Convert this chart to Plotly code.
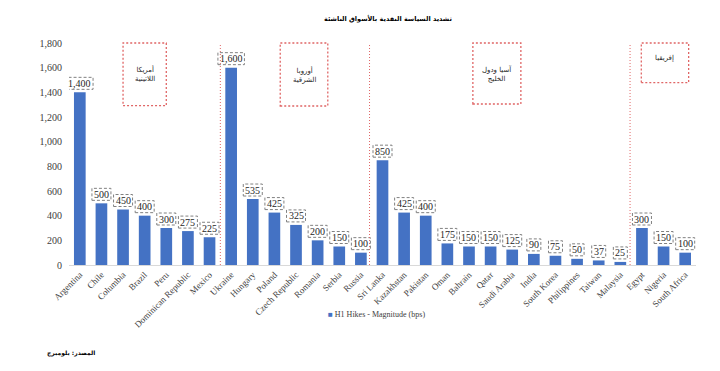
import plotly.graph_objects as go

countries = ["Argentina", "Chile", "Columbia", "Brazil", "Peru", "Dominican Republic", "Mexico",
             "Ukraine", "Hungary", "Poland", "Czech Republic", "Romania", "Serbia", "Russia",
             "Sri Lanka", "Kazakhstan", "Pakistan", "Oman", "Bahrain", "Qatar", "Saudi Arabia",
             "India", "South Korea", "Philippines", "Taiwan", "Malaysia",
             "Egypt", "Nigeria", "South Africa"]
hikes_bps = [1400, 500, 450, 400, 300, 275, 225,
             1600, 535, 425, 325, 200, 150, 100,
             850, 425, 400, 175, 150, 150, 125, 90, 75, 50, 37, 25,
             300, 150, 100]
series_name = "H1 Hikes - Magnitude (bps)"
y_ticks = [0, 200, 400, 600, 800, 1000, 1200, 1400, 1600, 1800]
title_text = "تشديد السياسة النقدية بالأسواق الناشئة"
source_text = "المصدر: بلومبرج"
region_labels = ["أمريكا<br>اللاتينية", "أوروبا<br>الشرقية", "آسيا ودول<br>الخليج", "إفريقيا"]

BLUE = "#4472C4"
RED = "#E06666"
SERIF = "Liberation Serif, Times New Roman, serif"
ARABIC = "DejaVu Sans, Noto Sans, sans-serif"

# page body has an 8px default margin; plot area spans absolute x 68.6..696.4, y 43..265
PX0, PX1, PY0, PY1 = 68.6, 696.4, 43.0, 265.0


def px_x(ax):
    return (ax - PX0) / (PX1 - PX0)


def px_y(ay):
    return (PY1 - ay) / (PY1 - PY0)


idx = list(range(len(countries)))

fig = go.Figure()
fig.add_trace(go.Bar(x=idx, y=hikes_bps, marker=dict(color=BLUE, line=dict(width=0)),
                     width=0.54, name=series_name, showlegend=False))

shapes = []
annotations = []

# data labels in dashed boxes
for i, v in zip(idx, hikes_bps):
    txt = f"{v:,}"
    w = 5.0 * sum(1 for c in txt if c.isdigit()) + 2.5 * txt.count(",") + 4
    shapes.append(dict(type="rect", xref="x", yref="y", xsizemode="pixel", ysizemode="pixel",
                       xanchor=i, yanchor=v, x0=-w / 2, x1=w / 2, y0=3, y1=15,
                       line=dict(color="#808080", width=1, dash="3px,2px"), layer="above"))
    annotations.append(dict(x=i, y=v, xref="x", yref="y", text=txt, showarrow=False,
                            yshift=9, font=dict(family=SERIF, size=10, color="#262626")))

# region separators
for sx in [6.5, 13.4, 25.45]:
    shapes.append(dict(type="line", xref="x", yref="y", x0=sx, x1=sx, y0=0, y1=1800,
                       line=dict(color=RED, width=1, dash="1px,2px")))

# region boxes (x in category units, y in paper units)
boxes = [(2.0, 4.0, px_y(105.7)), (9.27, 11.47, px_y(106)), (18.18, 20.4, px_y(104)),
         (25.97, 28.16, px_y(82.7))]
for (bx0, bx1, by0), lab in zip(boxes, region_labels):
    shapes.append(dict(type="rect", xref="x", yref="paper", x0=bx0, x1=bx1, y0=by0, y1=1.0,
                       line=dict(color=RED, width=1.3, dash="2px,2px")))
    annotations.append(dict(x=(bx0 + bx1) / 2, y=(by0 + 1.0) / 2 + (0.0 if "<br>" in lab else 0.02),
                            xref="x", yref="paper", text=lab, showarrow=False,
                            yanchor="middle",
                            font=dict(family=ARABIC, size=7, color="#262626")))

# title
annotations.append(dict(x=px_x(388), y=px_y(18), xref="paper", yref="paper",
                        xanchor="center", yanchor="middle",
                        text="<b>" + title_text + "</b>",
                        showarrow=False, font=dict(family=ARABIC, size=6.5, color="#000000")))
# legend imitation
annotations.append(dict(x=px_x(326), y=px_y(314), xref="paper", yref="paper",
                        xanchor="left", yanchor="middle",
                        text=f"<span style='color:{BLUE}'>■</span> " + series_name,
                        showarrow=False, font=dict(family=SERIF, size=8, color="#404040")))
# source
annotations.append(dict(x=px_x(97), y=px_y(353), xref="paper", yref="paper",
                        xanchor="right", yanchor="middle", text="<b>" + source_text + "</b>",
                        showarrow=False, font=dict(family=ARABIC, size=6, color="#000000")))

fig.update_layout(
    width=712, height=363,
    margin=dict(l=PX0 - 8, r=720 - PX1, t=PY0 - 8, b=371 - PY1),
    plot_bgcolor="white", paper_bgcolor="white",
    shapes=shapes, annotations=annotations,
)
fig.update_xaxes(range=[-0.5, 28.5], tickmode="array", tickvals=idx, ticktext=countries,
                 tickangle=-45, tickfont=dict(family=SERIF, size=9, color="#404040"),
                 showgrid=False, showline=True, linecolor="#D9D9D9", linewidth=1,
                 ticks="", zeroline=False, automargin=False)
fig.update_yaxes(range=[0, 1800], tickmode="array", tickvals=y_ticks,
                 ticktext=[f"{t:,}" for t in y_ticks],
                 tickfont=dict(family=SERIF, size=10, color="#404040"),
                 showgrid=False, zeroline=False, showline=False, ticks="", ticklabelstandoff=6,
                 automargin=False)

fig.write_html("out.html")
